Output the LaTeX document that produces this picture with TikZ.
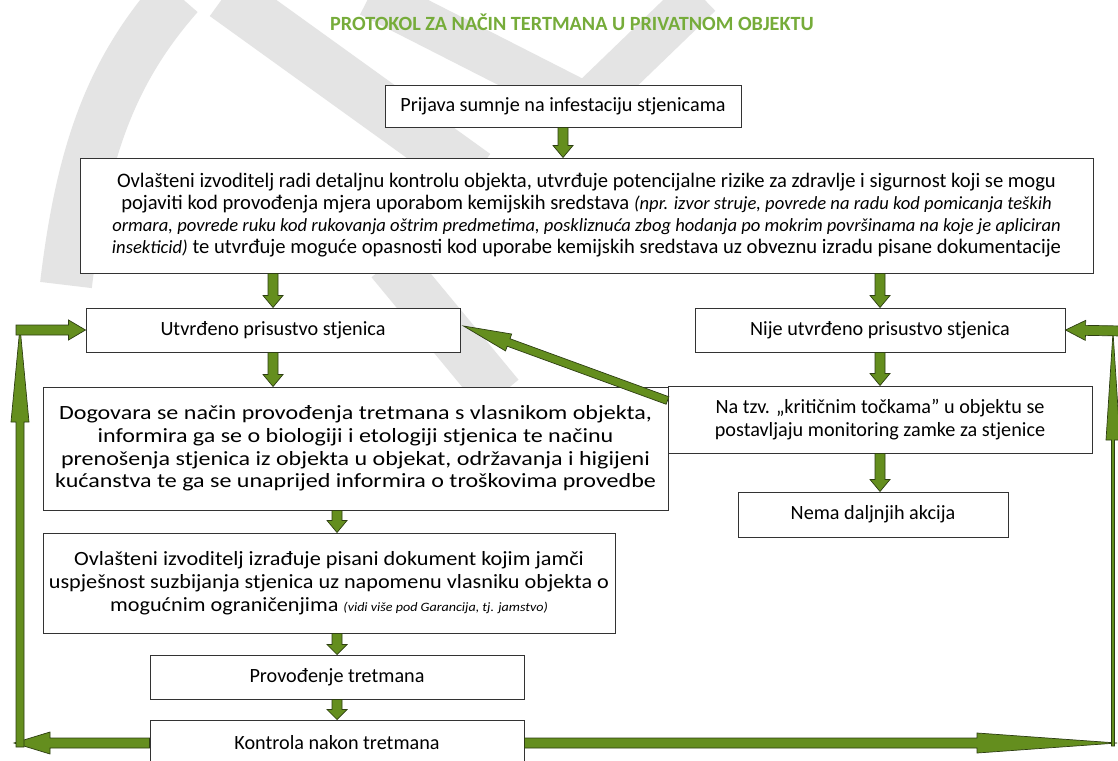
\documentclass[tikz,border=0pt]{standalone}
\usepackage{fontspec}
\setmainfont{Carlito}
\newfontfamily\wideA[FakeStretch=1.19]{Carlito}
\newfontfamily\wideB[FakeStretch=1.1]{Carlito}
\usetikzlibrary{calc}
\definecolor{arrfill}{RGB}{100,142,30}
\definecolor{arrline}{RGB}{45,62,18}
\definecolor{titlegreen}{RGB}{118,172,58}
\definecolor{wmgray}{RGB}{228,228,228}
\newcommand\smit{\itshape\fontsize{18.6}{22}\selectfont}
\newcommand\tinyit{\itshape\fontsize{12.8}{23}\selectfont}
% block arrow: from, to (tip), shaft half width, head half width, head length
\newcommand\blockarrow[5]{%
  \coordinate (ba-h) at ($(#2)!#5!(#1)$);
  \draw[arr] ($(#1)!#3!90:(#2)$) -- ($(ba-h)!#3!90:(#2)$) -- ($(ba-h)!#4!90:(#2)$) -- (#2)
    -- ($(ba-h)!#4!-90:(#2)$) -- ($(ba-h)!#3!-90:(#2)$) -- ($(#1)!#3!-90:(#2)$) -- cycle;}
\begin{document}
\begin{tikzpicture}[x=1pt,y=-1pt,
  box/.style={draw=black!80, line width=1pt, fill=white, inner sep=0pt, align=center,
    font=\fontsize{20.2}{22.5}\selectfont},
  arr/.style={fill=arrfill, draw=arrline, line width=0.7pt, line join=miter},
  wm/.style={draw=wmgray, line cap=butt}]
\useasboundingbox (0,0) rectangle (1118,760);
\clip (0,0) rectangle (1118,760);
\fill[white] (0,0) rectangle (1118,760);
% watermark
\draw[wm, line width=52pt] (66,285) .. controls (82,150) and (112,70) .. (178,-5);
\draw[wm, line width=52pt] (225,-5) -- (475,175);
\draw[wm, line width=44pt] (370,-5) -- (586,105);
\draw[wm, line width=44pt] (700,-5) -- (586,105);
\draw[wm, line width=48pt] (390,262) -- (500,395);
% title
\node[font=\bfseries\fontsize{20.2}{22}\selectfont, text=titlegreen] (title) at (572,22)
  {PROTOKOL ZA NAČIN TERTMANA U PRIVATNOM OBJEKTU};
% boxes
\node[box, minimum width=356pt, minimum height=42pt] (b1) at (563,106)
  {Prijava sumnje na infestaciju stjenicama};
\node[box, minimum width=1013pt, minimum height=115pt, font=\fontsize{20.6}{22}\selectfont] (b2) at (586.5,215.5)
  {Ovlašteni izvoditelj radi detaljnu kontrolu objekta, utvrđuje potencijalne rizike za zdravlje i sigurnost koji se mogu\\
   pojaviti kod provođenja mjera uporabom kemijskih sredstava {\smit (npr. izvor struje, povrede na radu kod pomicanja teških}\\
   {\smit ormara, povrede ruku kod rukovanja oštrim predmetima, poskliznuća zbog hodanja po mokrim površinama na koje je apliciran}\\
   {\smit insekticid)} te utvrđuje moguće opasnosti kod uporabe kemijskih sredstava uz obveznu izradu pisane dokumentacije};
\node[box, minimum width=374pt, minimum height=44pt] (b3) at (273,330) {Utvrđeno prisustvo stjenica};
\node[box, minimum width=370pt, minimum height=44pt] (b4) at (880,330) {Nije utvrđeno prisustvo stjenica};
\node[box, minimum width=424pt, minimum height=67pt] (b5) at (880,419.5)
  {Na tzv. „kritičnim točkama” u objektu se\\postavljaju monitoring zamke za stjenice};
\node[box, minimum width=270pt, minimum height=45pt] (b6) at (873,514.5) {Nema daljnjih akcija};
\node[box, minimum width=625pt, minimum height=123pt, font=\wideA\fontsize{20.2}{22.8}\selectfont] (b7) at (355.5,448.5)
  {Dogovara se način provođenja tretmana s vlasnikom objekta,\\
   informira ga se o biologiji i etologiji stjenica te načinu\\
   prenošenja stjenica iz objekta u objekat, održavanja i higijeni\\
   kućanstva te ga se unaprijed informira o troškovima provedbe};
\node[box, minimum width=572pt, minimum height=100pt, font=\wideB\fontsize{20.2}{22.8}\selectfont] (b8) at (329,583)
  {Ovlašteni izvoditelj izrađuje pisani dokument kojim jamči\\
   uspješnost suzbijanja stjenica uz napomenu vlasniku objekta o\\
   mogućnim ograničenjima {\tinyit (vidi više pod Garancija, tj. jamstvo)}};
\node[box, minimum width=374pt, minimum height=44pt] (b9) at (337,677) {Provođenje tretmana};
\node[box, minimum width=374pt, minimum height=46pt] (b10) at (337,743) {Kontrola nakon tretmana};
% straight down arrows
\coordinate (e12) at (b1.south |- b2.north);
\blockarrow{b1.south}{e12}{5pt}{10pt}{12pt}
\coordinate (s23) at (b2.south -| b3.north);
\blockarrow{s23}{b3.north}{5pt}{10pt}{12pt}
\coordinate (s24) at (b2.south -| b4.north);
\blockarrow{s24}{b4.north}{5pt}{10pt}{12pt}
\coordinate (e37) at (b3.south |- b7.north);
\blockarrow{b3.south}{e37}{5pt}{10pt}{12pt}
\coordinate (e45) at (b4.south |- b5.north);
\blockarrow{b4.south}{e45}{5pt}{10pt}{12pt}
\coordinate (e56) at (b5.south |- b6.north);
\blockarrow{b5.south}{e56}{5pt}{10pt}{12pt}
\coordinate (s78) at (b7.south -| b9.north);
\coordinate (e78) at (b8.north -| b9.north);
\blockarrow{s78}{e78}{5pt}{10pt}{12pt}
\coordinate (s89) at (b8.south -| b9.north);
\blockarrow{s89}{b9.north}{5pt}{10pt}{10pt}
\blockarrow{b9.south}{b10.north}{5pt}{10pt}{10pt}
% diagonal arrow
\coordinate (dstart) at ($(b5.north west)+(0,15)$);
\coordinate (dtip) at ($(b3.east)+(3,-4)$);
\blockarrow{dstart}{dtip}{4pt}{9pt}{48pt}
% left loop
\coordinate (lbl) at (14,743);
\blockarrow{b10.west}{lbl}{5pt}{11pt}{36pt}
\coordinate (lv0) at (20,747);
\coordinate (lv1) at (20,327);
\blockarrow{lv0}{lv1}{4pt}{9pt}{95pt}
\coordinate (lt0) at (16,330);
\blockarrow{lt0}{b3.west}{5pt}{10pt}{17pt}
% right loop
\coordinate (rbr) at (1117,743);
\blockarrow{b10.east}{rbr}{5pt}{10pt}{140pt}
\coordinate (rv0) at (1113,746);
\coordinate (rv1) at (1113,332);
\blockarrow{rv0}{rv1}{1.5pt}{7pt}{108pt}
\coordinate (rt0) at (1122,331);
\blockarrow{rt0}{b4.east}{5pt}{10pt}{20pt}
\end{tikzpicture}
\end{document}
